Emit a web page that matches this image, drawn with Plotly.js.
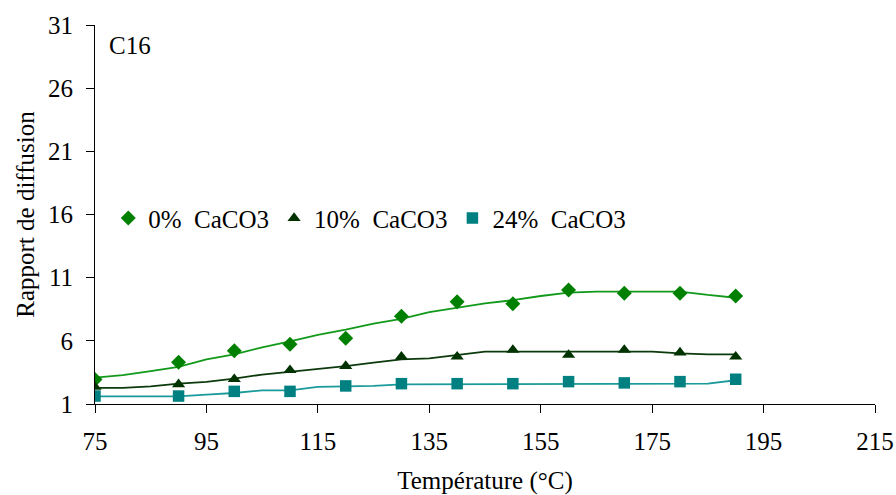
<!DOCTYPE html>
<html>
<head>
<meta charset="utf-8">
<script src="https://cdn.plot.ly/plotly-3.0.1.min.js"></script>
<style>html,body{margin:0;padding:0;background:#fff;}#chart{width:896px;height:495px;}</style>
</head>
<body>
<div id="chart"></div>
<script>
// Measured points
const temps = [75, 90, 100, 110, 120, 130, 140, 150, 160, 170, 180, 190];
const caco3_0 = [2.94, 4.3, 5.22, 5.73, 6.21, 7.95, 9.1, 8.93, 10.03, 9.76, 9.76, 9.55];
const caco3_10 = [2.35, 2.56, 2.96, 3.68, 4.0, 4.75, 4.75, 5.28, 4.88, 5.28, 5.07, 4.75];
const caco3_24 = [1.63, 1.63, 2.0, 2.0, 2.43, 2.61, 2.61, 2.61, 2.77, 2.67, 2.77, 2.96];

// Trend curves
const fitTemps = [75, 80, 85, 90, 95, 100, 105, 110, 115, 120, 125, 130, 135, 140, 145, 150, 155, 160, 165, 170, 175, 180, 185, 190];
const fit_0 = [3.09, 3.28, 3.6, 3.94, 4.53, 4.93, 5.49, 5.95, 6.48, 6.88, 7.36, 7.73, 8.27, 8.64, 8.96, 9.22, 9.55, 9.81, 9.9, 9.9, 9.9, 9.9, 9.63, 9.41];
const fit_10 = [2.27, 2.27, 2.4, 2.61, 2.75, 3.01, 3.33, 3.55, 3.81, 4.0, 4.27, 4.53, 4.61, 4.9, 5.15, 5.15, 5.15, 5.15, 5.15, 5.15, 5.15, 5.0, 4.93, 4.93];
const fit_24 = [1.6, 1.6, 1.6, 1.6, 1.75, 1.87, 2.08, 2.08, 2.35, 2.4, 2.43, 2.56, 2.56, 2.56, 2.56, 2.56, 2.56, 2.56, 2.56, 2.56, 2.56, 2.56, 2.61, 2.88];

const seriesNames = ["0%\u00a0\u00a0CaCO3", "10%\u00a0\u00a0CaCO3", "24%\u00a0\u00a0CaCO3"];
const xTicks = [75, 95, 115, 135, 155, 175, 195, 215];
const yTicks = [1, 6, 11, 16, 21, 26, 31];

const cGreen = "#008000", cDark = "#003300", cTeal = "#008080";
const lGreen = "#11991a", lDark = "#0c3a0c", lTeal = "#1a9a9a";

const data = [
  {x: fitTemps, y: fit_0, mode: "lines", line: {color: lGreen, width: 1.8}, showlegend: false, hoverinfo: "skip"},
  {x: fitTemps, y: fit_10, mode: "lines", line: {color: lDark, width: 1.8}, showlegend: false, hoverinfo: "skip"},
  {x: fitTemps, y: fit_24, mode: "lines", line: {color: lTeal, width: 1.8}, showlegend: false, hoverinfo: "skip"},
  {x: temps, y: caco3_0, name: seriesNames[0], mode: "markers", marker: {symbol: "diamond", size: 11.5, color: cGreen}},
  {x: temps, y: caco3_10, name: seriesNames[1], mode: "markers", marker: {symbol: "triangle-up", size: 11.5, color: cDark}},
  {x: temps, y: caco3_24, name: seriesNames[2], mode: "markers", marker: {symbol: "square", size: 11.5, color: cTeal}}
];

const fnt = {family: "Liberation Serif", size: 25, color: "#000"};

const layout = {
  width: 896, height: 495,
  margin: {l: 95, r: 21, t: 25, b: 91},
  paper_bgcolor: "#fff", plot_bgcolor: "#fff",
  font: fnt,
  showlegend: true,
  legend: {orientation: "h", x: 0.017, xanchor: "left", y: 0.49, yanchor: "middle", font: fnt, bgcolor: "rgba(0,0,0,0)", itemwidth: 30},
  xaxis: {
    range: [75, 215], tickvals: xTicks, ticktext: xTicks.map(String),
    showgrid: false, zeroline: false, showline: true, linecolor: "#000", linewidth: 1,
    ticks: "outside", ticklen: 8, tickcolor: "#000", tickfont: fnt, ticklabelstandoff: 7,
    title: {text: "Température (°C)", font: fnt, standoff: 19}
  },
  yaxis: {
    range: [1, 31], tickvals: yTicks, ticktext: yTicks.map(String),
    showgrid: false, zeroline: false, showline: true, linecolor: "#000", linewidth: 1,
    ticks: "outside", ticklen: 8, tickcolor: "#000", tickfont: fnt, ticklabelstandoff: 8,
    title: {text: "Rapport de diffusion", font: fnt, standoff: 6}
  },
  annotations: [
    {text: "C16", xref: "paper", yref: "paper", x: 0.015, y: 0.947, xanchor: "left", yanchor: "middle", showarrow: false, font: fnt}
  ]
};

Plotly.newPlot("chart", data, layout, {staticPlot: true, displayModeBar: false});
</script>
</body>
</html>
